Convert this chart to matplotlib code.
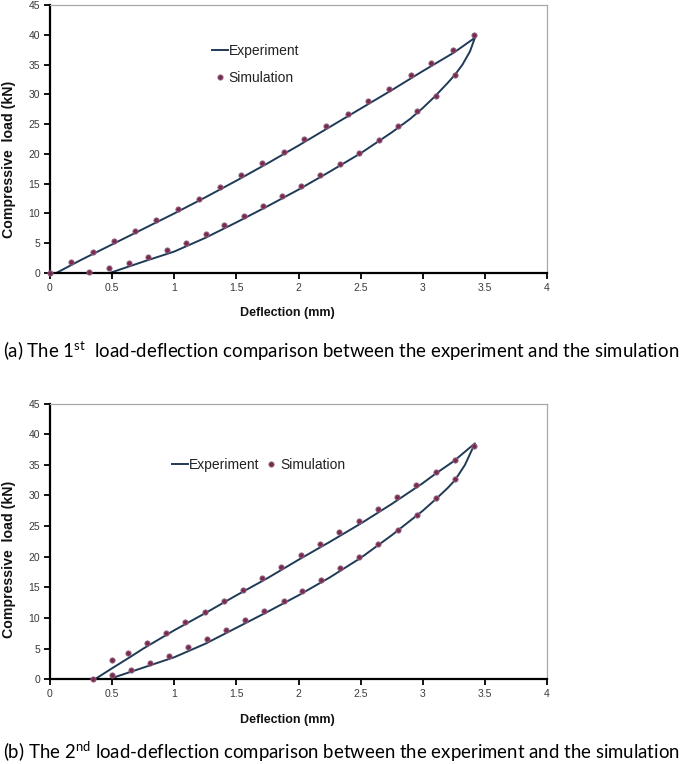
import matplotlib
matplotlib.use("Agg")
import matplotlib.pyplot as plt
from matplotlib.lines import Line2D

plt.rcParams['font.family'] = ['Liberation Sans', 'DejaVu Sans']
plt.rcParams['mathtext.fontset'] = 'custom'
plt.rcParams['mathtext.rm'] = 'Lato'

# ---------------- data: chart (a) ----------------
exp_a_x = [0.05, 0.25, 0.5, 0.75, 1.0, 1.25, 1.5, 1.75, 2.0, 2.25, 2.5, 2.75, 3.0, 3.25, 3.42,
           3.38, 3.32, 3.26, 3.2, 3.1, 3.0, 2.9, 2.75, 2.5, 2.25, 2.0, 1.75, 1.5, 1.25, 1.0, 0.75, 0.48]
exp_a_y = [0.0, 2.2, 4.8, 7.4, 10.0, 12.7, 15.5, 18.4, 21.4, 24.5, 27.6, 30.7, 33.9, 37.0, 39.5,
           37.2, 35.0, 33.3, 31.9, 29.7, 27.7, 25.9, 23.6, 20.1, 17.0, 14.0, 11.2, 8.5, 5.9, 3.6, 1.9, 0.0]

sim_a_x = [0.0, 0.166, 0.343, 0.515, 0.685, 0.853, 1.027, 1.196, 1.368, 1.537, 1.706, 1.880, 2.046,
           2.220, 2.395, 2.558, 2.730, 2.904, 3.070, 3.242, 3.414,
           3.258, 3.105, 2.950, 2.797, 2.647, 2.486, 2.336, 2.175, 2.022, 1.864, 1.711, 1.563,
           1.400, 1.252, 1.091, 0.941, 0.791, 0.633, 0.475, 0.317]
sim_a_y = [0.0, 1.8, 3.5, 5.3, 7.05, 8.9, 10.7, 12.5, 14.4, 16.4, 18.4, 20.4, 22.5,
           24.6, 26.7, 28.8, 30.9, 33.2, 35.3, 37.5, 39.9,
           33.2, 29.8, 27.2, 24.6, 22.4, 20.2, 18.3, 16.4, 14.6, 13.0, 11.3, 9.6,
           8.1, 6.6, 5.0, 3.9, 2.7, 1.7, 0.8, 0.1]

# ---------------- data: chart (b) ----------------
exp_b_x = [0.36, 0.5, 0.65, 0.75, 1.0, 1.25, 1.5, 1.75, 2.0, 2.25, 2.5, 2.75, 3.0, 3.1, 3.25, 3.42,
           3.34, 3.26, 3.2, 3.1, 3.0, 2.9, 2.75, 2.5, 2.25, 2.0, 1.75, 1.5, 1.25, 1.0, 0.75, 0.47]
exp_b_y = [0.0, 1.8, 3.7, 5.0, 8.0, 10.8, 13.7, 16.5, 19.5, 22.4, 25.4, 28.6, 32.0, 33.5, 35.6, 38.5,
           35.0, 32.5, 31.2, 29.3, 27.5, 25.9, 23.5, 19.8, 16.6, 13.7, 11.0, 8.4, 5.8, 3.6, 1.9, 0.0]

sim_b_x = [0.343, 0.495, 0.627, 0.782, 0.937, 1.090, 1.245, 1.400, 1.556, 1.708, 1.863, 2.019,
           2.174, 2.329, 2.485, 2.640, 2.793, 2.948, 3.103, 3.261, 3.414,
           3.261, 3.103, 2.950, 2.798, 2.643, 2.490, 2.335, 2.182, 2.030, 1.880, 1.724, 1.572,
           1.419, 1.261, 1.111, 0.958, 0.803, 0.648, 0.495]
sim_b_y = [0.0, 3.1, 4.3, 5.9, 7.6, 9.3, 11.0, 12.8, 14.6, 16.5, 18.4, 20.3,
           22.1, 24.0, 25.9, 27.8, 29.7, 31.7, 33.9, 35.8, 38.0,
           32.6, 29.5, 26.8, 24.4, 22.1, 19.9, 18.1, 16.2, 14.4, 12.8, 11.2, 9.6,
           8.05, 6.6, 5.2, 3.8, 2.6, 1.5, 0.65]

x_ticks = [0, 0.5, 1, 1.5, 2, 2.5, 3, 3.5, 4]
x_tick_labels = ['0', '0.5', '1', '1.5', '2', '2.5', '3', '3.5', '4']
y_ticks = [0, 5, 10, 15, 20, 25, 30, 35, 40, 45]
y_tick_labels = ['0', '5', '10', '15', '20', '25', '30', '35', '40', '45']

x_label = 'Deflection (mm)'
y_label = 'Compressive  load (kN)'
caption_a = '(a) The 1$^{\\mathrm{st}}$  load-deflection comparison between the experiment and the simulation'
caption_b = '(b) The 2$^{\\mathrm{nd}}$ load-deflection comparison between the experiment and the simulation'
legend_labels = ['Experiment', 'Simulation']

LINE_C = '#1f3a56'
MARK_C = '#7a2a4c'
MARK_E = '#946a8a'

W, H = 685, 764
fig = plt.figure(figsize=(W / 100, H / 100), dpi=100)


def px_axes(left, right, top, bottom):
    return fig.add_axes([left / W, 1 - bottom / H, (right - left) / W, (bottom - top) / H])


def style(ax, bottom_px, top_px, xlab_off, ylab_center):
    ax.set_xlim(0, 4)
    ax.set_ylim(0, 45)
    ax.set_xticks(x_ticks)
    ax.set_xticklabels(x_tick_labels)
    ax.set_yticks(y_ticks)
    ax.set_yticklabels(y_tick_labels)
    ax.tick_params(axis='both', direction='out', length=4, width=1.3, color='black',
                   labelsize=7.5, labelcolor='#3a3a3a', pad=3)
    for s in ['left', 'bottom']:
        ax.spines[s].set_linewidth(1.6)
        ax.spines[s].set_color('black')
    for s in ['top', 'right']:
        ax.spines[s].set_linewidth(0.9)
        ax.spines[s].set_color('#a8a8a8')
    hpx = bottom_px - top_px
    ax.set_xlabel(x_label, fontsize=9, fontweight='bold', color='#111111', va='center')
    ax.xaxis.set_label_coords(237 / 497, -xlab_off / hpx)
    ax.set_ylabel(y_label, fontsize=10.2, fontweight='bold', color='#111111', va='center')
    ax.yaxis.set_label_coords(-41 / 497, (bottom_px - ylab_center) / hpx)


def draw(ax, ex, ey, sx, sy):
    ax.plot(ex, ey, color=LINE_C, lw=1.4, zorder=2, solid_joinstyle='round')
    ax.plot(sx, sy, linestyle='none', marker='o', markersize=3.8, markerfacecolor=MARK_C,
            markeredgecolor=MARK_E, markeredgewidth=0.6, zorder=3, clip_on=False)


handles = [Line2D([], [], color=LINE_C, lw=1.4),
           Line2D([], [], linestyle='none', marker='o', markersize=3.8, markerfacecolor=MARK_C,
                  markeredgecolor=MARK_E, markeredgewidth=0.6)]

# chart (a)
ax1 = px_axes(50, 547, 5, 273)
draw(ax1, exp_a_x, exp_a_y, sim_a_x, sim_a_y)
style(ax1, 273, 5, 40, 159)
ax1.legend(handles, legend_labels, loc='upper left', bbox_to_anchor=((212 - 50) / 497, (273 - 44) / 268),
           frameon=False, fontsize=10, handlelength=1.15, handletextpad=0.05, labelspacing=0.9,
           borderpad=0, borderaxespad=0, labelcolor='#222222')
fig.text(3 / W, 1 - 351 / H, caption_a, fontsize=13.4, family='Lato', va='center', ha='left',
         color='black')

# chart (b)
ax2 = px_axes(50, 547, 403.5, 679.3)
draw(ax2, exp_b_x, exp_b_y, sim_b_x, sim_b_y)
style(ax2, 679.3, 403.5, 41, 559)
ax2.legend(handles, legend_labels, loc='upper left', bbox_to_anchor=((172 - 50) / 497, (679.3 - 458) / 275.8),
           frameon=False, fontsize=10, handlelength=1.15, handletextpad=0.05, columnspacing=0.3, ncol=2,
           borderpad=0, borderaxespad=0, labelcolor='#222222')
fig.text(3 / W, 1 - 752 / H, caption_b, fontsize=13.4, family='Lato', va='center', ha='left',
         color='black')

fig.savefig('out.png', dpi=100)
